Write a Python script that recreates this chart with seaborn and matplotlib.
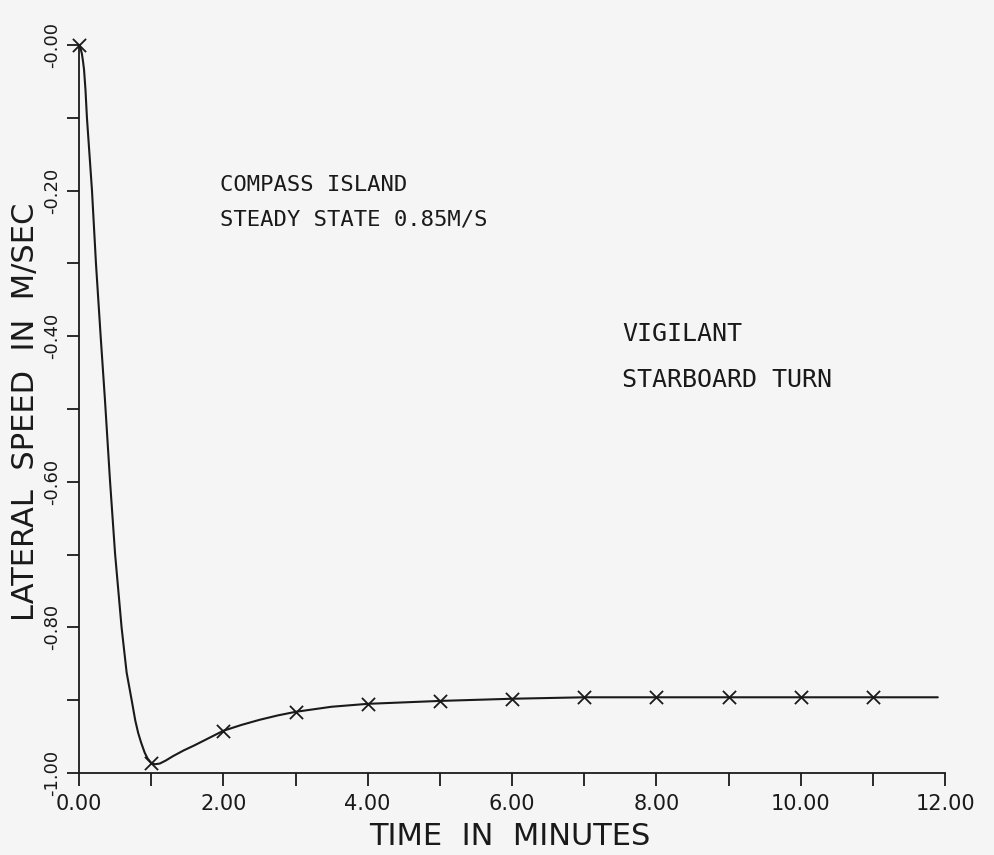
import matplotlib
matplotlib.use("Agg")
import matplotlib.pyplot as plt
import seaborn as sns
import pandas as pd
from matplotlib.ticker import FixedLocator, FixedFormatter, MultipleLocator

# ---- data ----
curve_time = [0.00, 0.02, 0.04, 0.055, 0.07, 0.09, 0.11, 0.145, 0.18, 0.235, 0.30,
              0.36, 0.43, 0.50, 0.59, 0.66, 0.73, 0.78, 0.82, 0.86, 0.91, 0.95,
              1.00, 1.05, 1.12, 1.20, 1.30, 1.45, 1.60, 1.80, 2.00, 2.25, 2.50,
              2.75, 3.00, 3.50, 4.00, 5.00, 6.00, 7.00, 11.90]
curve_speed = [0.000, -0.004, -0.012, -0.022, -0.034, -0.062, -0.100, -0.150, -0.200,
               -0.300, -0.400, -0.488, -0.599, -0.699, -0.800, -0.862, -0.900, -0.928,
               -0.945, -0.958, -0.972, -0.980, -0.986, -0.988, -0.987, -0.983, -0.977,
               -0.969, -0.962, -0.952, -0.942, -0.934, -0.927, -0.921, -0.916, -0.909,
               -0.905, -0.901, -0.898, -0.896, -0.896]
marker_time = [0, 1, 2, 3, 4, 5, 6, 7, 8, 9, 10, 11]
marker_speed = [0.000, -0.986, -0.942, -0.916, -0.905, -0.901, -0.898, -0.896,
                -0.896, -0.896, -0.896, -0.896]
x_ticks = [0, 2, 4, 6, 8, 10, 12]
x_tick_labels = ["0.00", "2.00", "4.00", "6.00", "8.00", "10.00", "12.00"]
y_ticks = [0.0, -0.2, -0.4, -0.6, -0.8, -1.0]
y_tick_labels = ["-0.00", "-0.20", "-0.40", "-0.60", "-0.80", "-1.00"]

sns.set_theme(style="ticks")
plt.rcParams["font.family"] = ["DejaVu Sans"]
plt.rcParams["axes.unicode_minus"] = False

INK = "#1a1a1a"
W, H = 994, 855
fig = plt.figure(figsize=(W / 100, H / 100), dpi=100, facecolor="#f5f5f5")
ax = fig.add_axes([79 / W, 1 - 773 / H, 866 / W, 728 / H])
ax.set_facecolor("none")

curve_df = pd.DataFrame({"t": curve_time, "v": curve_speed})
mark_df = pd.DataFrame({"t": marker_time, "v": marker_speed})

sns.lineplot(data=curve_df, x="t", y="v", sort=False, estimator=None,
             color=INK, linewidth=1.5, ax=ax)
sns.scatterplot(data=mark_df, x="t", y="v", marker="x", s=90,
                color=INK, linewidth=1.3, ax=ax, zorder=3, clip_on=False)

ax.set_xlim(0, 12)
ax.set_ylim(-1.0, 0.0)
ax.set_xlabel("")
ax.set_ylabel("")

for s in ["top", "right"]:
    ax.spines[s].set_visible(False)
for s in ["left", "bottom"]:
    ax.spines[s].set_linewidth(1.3)
    ax.spines[s].set_color(INK)

ax.xaxis.set_major_locator(FixedLocator(x_ticks))
ax.xaxis.set_major_formatter(FixedFormatter(x_tick_labels))
ax.xaxis.set_minor_locator(MultipleLocator(1))
ax.yaxis.set_major_locator(FixedLocator(y_ticks))
ax.yaxis.set_major_formatter(FixedFormatter(y_tick_labels))
ax.yaxis.set_minor_locator(MultipleLocator(0.1))

ax.tick_params(axis="both", which="both", direction="out", length=9, width=1.3,
               color=INK)
ax.tick_params(axis="x", which="major", labelsize=15, pad=6, labelcolor=INK)
ax.tick_params(axis="y", which="major", labelsize=13, pad=4, labelcolor=INK)
for lab in ax.get_yticklabels():
    lab.set_rotation(90)
    lab.set_va("center")

mono = ["DejaVu Sans Mono"]
ax.text(1.95, -0.192, "COMPASS ISLAND", fontsize=16, color=INK,
        ha="left", va="center", family=mono)
ax.text(1.95, -0.240, "STEADY STATE 0.85M/S", fontsize=16, color=INK,
        ha="left", va="center", family=mono)
ax.text(7.53, -0.397, "VIGILANT", fontsize=18, color=INK,
        ha="left", va="center", family=mono)
ax.text(7.53, -0.460, "STARBOARD TURN", fontsize=18, color=INK,
        ha="left", va="center", family=mono)

fig.text(510 / W, 1 - 836 / H, "TIME  IN  MINUTES", fontsize=22, color=INK,
         ha="center", va="center")
fig.text(26 / W, 1 - 412 / H, "LATERAL  SPEED  IN  M/SEC", fontsize=22,
         color=INK, ha="center", va="center", rotation=90)

fig.savefig("out.png", dpi=100, facecolor=fig.get_facecolor())
